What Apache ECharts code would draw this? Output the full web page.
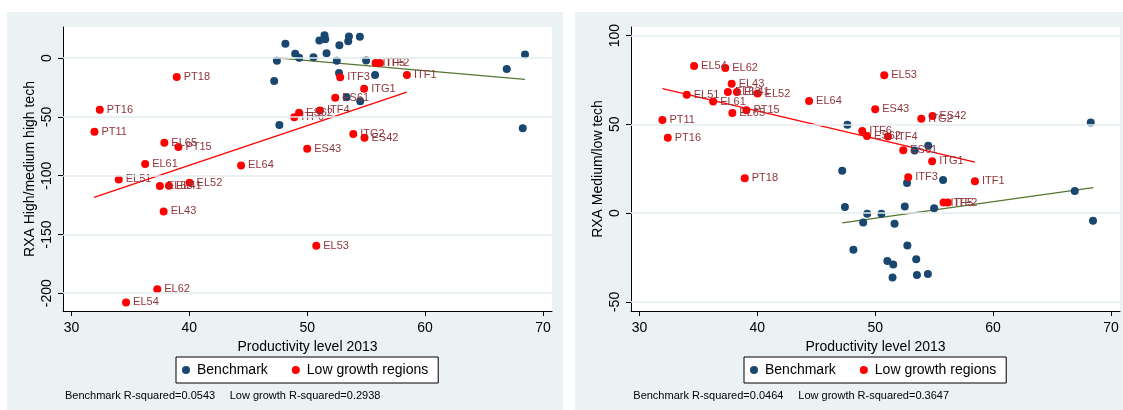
<!DOCTYPE html>
<html>
<head>
<meta charset="utf-8">
<script src="https://cdn.jsdelivr.net/npm/echarts@6/dist/echarts.min.js"></script>
<style>
html,body{margin:0;padding:0;background:#fff;}
#c{width:1123px;height:410px;}
</style>
</head>
<body>
<div id="c"></div>
<script>
// ---- data ----
const lowRegions = ['PT18','PT16','PT11','EL65','PT15','EL61','EL64','EL51','EL63','EL41','EL52','EL43','EL62','EL54','EL53','ITF5','ITF2','ITF1','ITF3','ITG1','ES61','ES62','ITF6','ITF4','ITG2','ES42','ES43'];
const lowProd = [38.93,32.4,31.95,37.88,39.07,36.25,44.39,34.01,37.5,38.27,40.02,37.82,37.28,34.63,50.77,55.8,56.16,58.46,52.8,54.83,52.38,49.31,48.9,51.08,53.91,54.86,50.0];
const lowHigh = [-16.2,-44.0,-62.7,-72.0,-75.7,-90.1,-91.3,-103.2,-108.8,-108.6,-106.0,-130.4,-196.7,-207.8,-159.6,-4.25,-4.25,-14.5,-16.4,-26.1,-33.7,-46.5,-50.4,-44.5,-64.6,-67.7,-77.1];
const lowMedLow = [19.7,42.4,52.5,56.4,57.9,62.8,63.2,66.7,68.2,68.2,67.3,72.9,81.7,82.8,77.6,6.0,6.0,18.0,20.2,29.2,35.4,43.5,46.3,43.1,53.2,54.7,58.5];

const benchProd = [47.2,47.43,47.64,48.15,48.98,49.32,50.53,51.03,51.47,51.53,51.64,52.51,52.70,52.73,53.34,53.48,53.54,54.47,54.5,55.0,55.76,66.93,68.29,68.48];
const benchHigh = [-19.6,-2.3,-57.0,12.2,3.7,0.3,0.6,15.0,19.3,15.9,4.0,-2.3,-12.8,10.8,-33.4,14.2,18.4,18.1,-36.8,-2.0,-14.5,-9.35,-59.8,3.1];
const benchMedLow = [23.8,3.4,49.7,-20.6,-5.3,-0.4,-0.4,-27.0,-36.2,-28.9,-6.0,3.7,16.9,-18.2,35.2,-25.9,-34.9,-34.3,37.9,2.8,18.6,12.5,51.0,-4.3];

// fitted-line endpoints
const fitBenchHighX = [47.16,68.47], fitBenchHighY = [0.3,-18.1];
const fitLowHighX = [31.91,58.45], fitLowHighY = [-118.5,-28.9];
const fitBenchMedX = [47.2,68.5], fitBenchMedY = [-5.5,14.4];
const fitLowMedX = [31.95,58.46], fitLowMedY = [70.1,28.7];

const xTicks = [30,40,50,60,70];
const yTicksLeft = [-200,-150,-100,-50,0];
const yTicksRight = [-50,0,50,100];
const r2Left = ['0.0543','0.2938'];
const r2Right = ['0.0464','0.3647'];
const seriesNames = ['Benchmark','Low growth regions'];
const xTitle = 'Productivity level 2013';
const yTitles = ['RXA High/medium high tech','RXA Medium/low tech'];

// ---- styling ----
const FONT = '"Liberation Sans", Arial, Helvetica, sans-serif';
const NAVY = '#1A476F', RED = '#FF0000', MAROON = '#90353B', OLIVE = '#55752F', BG = '#EAF2F3';

function pairs(xs, ys){ return xs.map((x,i)=>[x, ys[i]]); }
function labelled(xs, ys, names){ return xs.map((x,i)=>({value:[x, ys[i]], name:names[i]})); }

function xAxisCfg(idx){
  return {
    type:'value', gridIndex:idx, min:29.28, max:70.77,
    name:xTitle, nameLocation:'middle', nameGap:21,
    nameTextStyle:{fontFamily:FONT,fontSize:14,color:'#000'},
    axisLine:{onZero:false,lineStyle:{color:'#000',width:1}},
    axisTick:{show:true,length:5,customValues:xTicks,lineStyle:{color:'#000'}},
    axisLabel:{customValues:xTicks,fontFamily:FONT,fontSize:14,color:'#000',margin:10},
    splitLine:{show:false}
  };
}
function yAxisCfg(idx,min,max,ticks,title){
  return {
    type:'value', gridIndex:idx, min:min, max:max,
    name:title, nameLocation:'middle', nameGap:26, nameRotate:90,
    nameTextStyle:{fontFamily:FONT,fontSize:14,color:'#000'},
    axisLine:{show:true,onZero:false,lineStyle:{color:'#000',width:1}},
    axisTick:{show:true,length:5,customValues:ticks,lineStyle:{color:'#000'}},
    axisLabel:{customValues:ticks,rotate:90,fontFamily:FONT,fontSize:14,color:'#000',margin:9},
    splitLine:{show:false}
  };
}
function gridLines(idx,ticks){
  return {
    type:'scatter', name:'grid'+idx, xAxisIndex:idx, yAxisIndex:idx, z:1,
    data:[], silent:true,
    markLine:{silent:true,symbol:'none',label:{show:false},
      lineStyle:{color:'#E2ECEE',width:1.5,type:'solid'},
      data:ticks.map(t=>({yAxis:t}))}
  };
}
function fitLine(idx,xs,ys,color){
  return {type:'line',name:'fit',xAxisIndex:idx,yAxisIndex:idx,z:2,data:pairs(xs,ys),
    symbol:'none',silent:true,lineStyle:{color:color,width:1.3},animation:false};
}
function bench(idx,ys){
  return {type:'scatter',name:seriesNames[0],xAxisIndex:idx,yAxisIndex:idx,z:3,
    data:pairs(benchProd,ys),symbol:'circle',symbolSize:8,itemStyle:{color:NAVY,opacity:1}};
}
function low(idx,ys){
  return {type:'scatter',name:seriesNames[1],xAxisIndex:idx,yAxisIndex:idx,z:4,
    data:labelled(lowProd,ys,lowRegions),symbol:'circle',symbolSize:8,itemStyle:{color:RED,opacity:1},
    label:{show:true,position:'right',distance:3,formatter:p=>p.name,
      fontFamily:FONT,fontSize:11,color:MAROON}};
}
function legendCfg(left){
  return {left:left,top:357,orient:'horizontal',data:seriesNames,
    backgroundColor:'#fff',borderColor:'#000',borderWidth:1,borderRadius:0,
    padding:[5,10,5,6],itemGap:24,itemWidth:8,itemHeight:8,icon:'circle',
    itemStyle:{opacity:1},
    textStyle:{fontFamily:FONT,fontSize:14,color:'#000',lineHeight:16,padding:[0,0,0,2]},
    selectedMode:false};
}
function footText(x,txt){
  return {type:'text',left:x,top:390,z:10,style:{text:txt,font:'11px '+FONT,fill:'#000'}};
}

const chart = echarts.init(document.getElementById('c'),null,{renderer:'canvas'});
chart.setOption({
  animation:false,
  backgroundColor:'#fff',
  graphic:[
    {type:'rect',z:-10,shape:{x:7,y:12,width:556,height:398},style:{fill:BG}},
    {type:'rect',z:-10,shape:{x:575,y:12,width:548,height:398},style:{fill:BG}},
    footText(65,'Benchmark R-squared='+r2Left[0]),
    footText(229.7,'Low growth R-squared='+r2Left[1]),
    footText(633.3,'Benchmark R-squared='+r2Right[0]),
    footText(798.3,'Low growth R-squared='+r2Right[1])
  ],
  grid:[
    {left:63,top:27,width:489,height:284,show:true,backgroundColor:'#fff',borderWidth:0,containLabel:false},
    {left:631,top:27,width:489,height:284,show:true,backgroundColor:'#fff',borderWidth:0,containLabel:false}
  ],
  xAxis:[xAxisCfg(0),xAxisCfg(1)],
  yAxis:[yAxisCfg(0,-215.1,26.4,yTicksLeft,yTitles[0]),yAxisCfg(1,-55.1,104.8,yTicksRight,yTitles[1])],
  legend:[legendCfg(176),legendCfg(744)],
  series:[
    gridLines(0,yTicksLeft),gridLines(1,yTicksRight),
    bench(0,benchHigh),low(0,lowHigh),
    fitLine(0,fitBenchHighX,fitBenchHighY,OLIVE),fitLine(0,fitLowHighX,fitLowHighY,RED),
    bench(1,benchMedLow),low(1,lowMedLow),
    fitLine(1,fitBenchMedX,fitBenchMedY,OLIVE),fitLine(1,fitLowMedX,fitLowMedY,RED)
  ]
});
</script>
</body>
</html>
